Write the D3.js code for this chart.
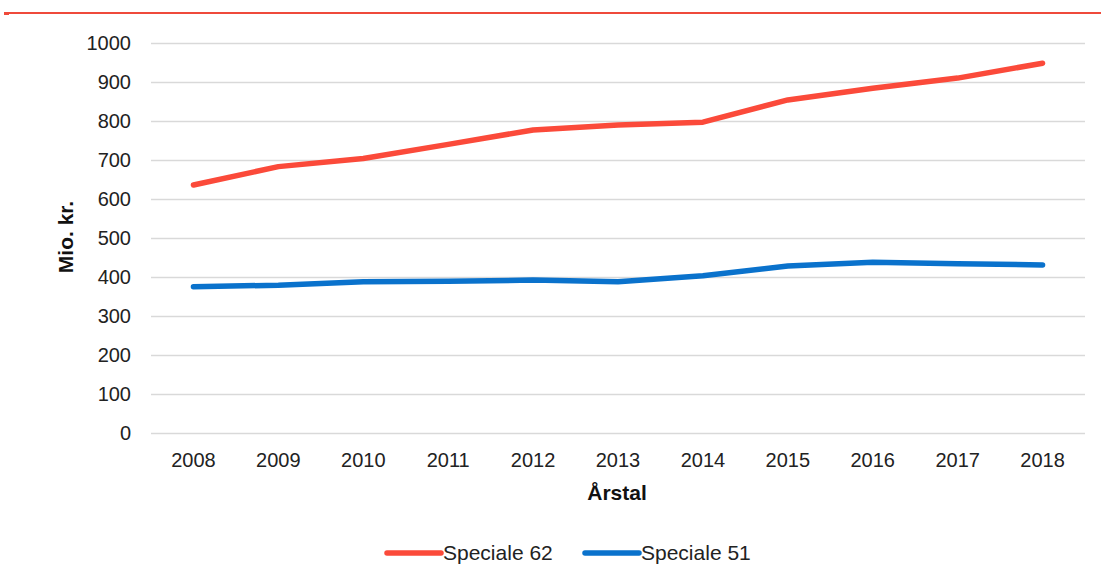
<!DOCTYPE html>
<html>
<head>
<meta charset="utf-8">
<script src="https://cdn.jsdelivr.net/npm/d3@7"></script>
<style>
  html, body { margin: 0; padding: 0; background: #fff; }
  svg { display: block; font-family: "Liberation Sans", Arial, sans-serif; }
</style>
</head>
<body>
<svg id="chart" width="1101" height="587"></svg>
<script>
// Årlige udgifter for to specialer, mio. kr.
const years = ["2008","2009","2010","2011","2012","2013","2014","2015","2016","2017","2018"];
const speciale62 = [636, 683, 704, 740, 777, 790, 797, 854, 884, 910, 948];
const speciale51 = [375, 379, 388, 389, 392, 388, 403, 428, 438, 434, 431];
const yTicks = [0, 100, 200, 300, 400, 500, 600, 700, 800, 900, 1000];
const seriesNames = ["Speciale 62", "Speciale 51"];
const seriesColors = ["#fb4a3a", "#0a72cc"];

const svg = d3.select("#chart");
const W = 1101;

// Rød streg øverst
svg.append("rect").attr("x", 4).attr("y", 12).attr("width", W - 4).attr("height", 2).attr("fill", "#ef4a3b");
svg.append("rect").attr("x", 4).attr("y", 12).attr("width", 5).attr("height", 3).attr("fill", "#ef4a3b");

const plot = { left: 151, right: 1085, top: 43, bottom: 433 };

const x = d3.scaleBand().domain(years).range([plot.left, plot.right]);
const y = d3.scaleLinear().domain([0, 1000]).range([plot.bottom, plot.top]);
const cx = d => x(d) + x.bandwidth() / 2;

// Gitterlinjer og y-akse
const yAxis = d3.axisLeft(y).tickValues(yTicks).tickFormat(d3.format("d"))
  .tickSize(-(plot.right - plot.left)).tickPadding(20);
const gy = svg.append("g").attr("transform", `translate(${plot.left},0)`).call(yAxis);
gy.select(".domain").remove();
gy.selectAll(".tick line").attr("stroke", "#d9d9d9").attr("stroke-width", 1.3);
gy.selectAll(".tick text").attr("font-size", 20).attr("fill", "#222").attr("x", -20);

// x-akse
const xAxis = d3.axisBottom(x).tickSize(0).tickPadding(20);
const gx = svg.append("g").attr("transform", `translate(0,${plot.bottom})`).call(xAxis);
gx.select(".domain").remove();
gx.selectAll(".tick text").attr("font-size", 20).attr("fill", "#222");

// Aksetitler
svg.append("text")
  .attr("transform", `translate(73,237) rotate(-90)`)
  .attr("text-anchor", "middle")
  .attr("font-size", 21).attr("font-weight", "bold").attr("fill", "#111")
  .text("Mio. kr.");
svg.append("text")
  .attr("x", 617).attr("y", 500)
  .attr("text-anchor", "middle")
  .attr("font-size", 21).attr("font-weight", "bold").attr("fill", "#111")
  .text("Årstal");

// Linjer
const line = d3.line()
  .x((d, i) => cx(years[i]))
  .y(d => y(d));

[speciale62, speciale51].forEach((vals, k) => {
  svg.append("path")
    .datum(vals)
    .attr("d", line)
    .attr("fill", "none")
    .attr("stroke", seriesColors[k])
    .attr("stroke-width", 5.5)
    .attr("stroke-linecap", "round")
    .attr("stroke-linejoin", "round");
});

// Signaturforklaring
const legendX = [387, 585];
seriesNames.forEach((name, k) => {
  const g = svg.append("g").attr("transform", `translate(${legendX[k]},553)`);
  g.append("line").attr("x1", 0).attr("x2", 54).attr("y1", 0).attr("y2", 0)
    .attr("stroke", seriesColors[k]).attr("stroke-width", 5.5).attr("stroke-linecap", "round");
  g.append("text").attr("x", 56).attr("y", 7).attr("font-size", 21).attr("fill", "#222").text(name);
});
</script>
</body>
</html>
